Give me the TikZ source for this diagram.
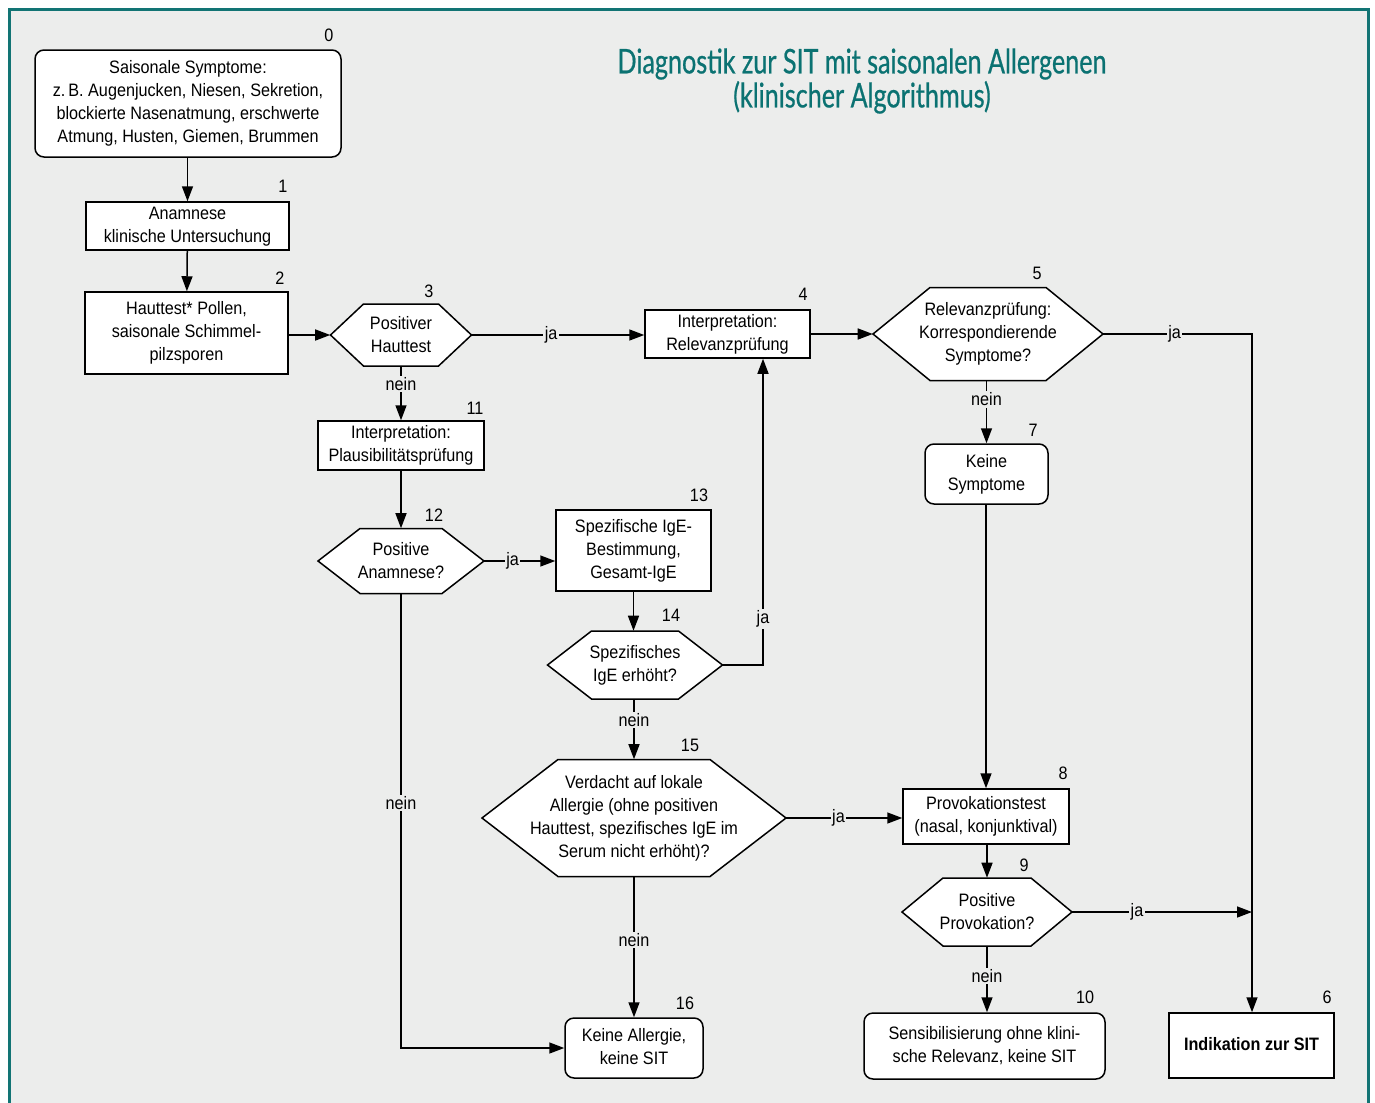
\documentclass[tikz,border=0pt]{standalone}
\usepackage{fontspec}
\setmainfont{Liberation Sans}[FakeStretch=0.9]
\newfontfamily\titlefont{Lato}[FakeStretch=0.74,FakeBold=0.6]
\usetikzlibrary{arrows.meta}
\definecolor{bgc}{HTML}{ECEDEC}
\definecolor{frameteal}{HTML}{127474}
\definecolor{titleteal}{HTML}{0B7272}
\def\pxu{0.75pt}
\newcommand\bodyfont{\fontsize{13.5}{17.25}\selectfont}
\tikzset{
  box/.style={draw, fill=white, line width=1.5*\pxu, inner sep=0pt, font=\bodyfont},
  rbox/.style={box, rounded corners=9*\pxu},
  hexline/.style={draw, fill=white, line width=1.5*\pxu},
  hextext/.style={align=center, inner sep=0pt, font=\bodyfont},
  num/.style={inner sep=0pt, font=\fontsize{13.5}{16}\selectfont},
  conn/.style={line width=1.5*\pxu, -{Triangle[length=15*\pxu, width=11*\pxu]}},
  plain/.style={line width=1.5*\pxu},
  lab/.style={fill=bgc, inner sep=1.5*\pxu, font=\bodyfont},
}
% \bx{style}{name}{x1}{y1}{x2}{y2}{text}
\newcommand\bx[7]{%
  \node[#1, minimum width={(#5-#3)*\pxu}, minimum height={(#6-#4)*\pxu}] (#2) at ({(#3+#5)/2},{(#4+#6)/2}) {\raisebox{-1.6pt}{\begin{tabular}{@{}c@{}}#7\end{tabular}}};}
% \hexnode{name}{cx}{cy}{w}{h}{d}{text}
\newcommand\hexnode[7]{%
  \path[hexline] ({#2-#4/2},#3) -- ({#2-#4/2+#6},{#3-#5/2}) -- ({#2+#4/2-#6},{#3-#5/2}) -- ({#2+#4/2},#3) -- ({#2+#4/2-#6},{#3+#5/2}) -- ({#2-#4/2+#6},{#3+#5/2}) -- cycle;
  \node[hextext, minimum width={#4*\pxu}, minimum height={#5*\pxu}] (#1) at (#2,#3) {#7};}
\begin{document}
\begin{tikzpicture}[x=0.75pt,y=-0.75pt]
\useasboundingbox (0,0) rectangle (1375,1103);
\clip (0,0) rectangle (1375,1103);
\fill[white] (0,0) rectangle (1375,1103);
\fill[bgc] (9,9) rectangle (1368,1120);
\draw[frameteal, line width=3*\pxu] (9,9) rectangle (1368,1120);

% title
\node[text=titleteal, font=\titlefont\fontsize{25.5}{25.5}\selectfont, align=center, inner sep=0] (title) at (862,81) {Diagnostik zur SIT mit saisonalen Allergenen\\(klinischer Algorithmus)};

% boxes
\bx{rbox}{n0}{35}{50}{341}{157}{Saisonale Symptome:\\z.\,B. Augenjucken, Niesen, Sekretion,\\blockierte Nasenatmung, erschwerte\\Atmung, Husten, Giemen, Brummen}
\bx{box}{n1}{86}{202}{289}{250}{Anamnese\\klinische Untersuchung}
\bx{box}{n2}{85}{292}{288}{374}{Hauttest* Pollen,\\saisonale Schimmel-\\pilzsporen}
\hexnode{n3}{401}{335}{141}{62}{33}{Positiver\\Hauttest}
\bx{box}{n4}{645}{310}{810}{358}{Interpretation:\\Relevanzprüfung}
\hexnode{n5}{988}{334}{230}{93}{57}{Relevanzprüfung:\\Korrespondierende\\Symptome?}
\bx{rbox}{n7}{925}{444}{1048}{504}{Keine\\Symptome}
\bx{box}{n11}{318}{421}{484}{470}{Interpretation:\\Plausibilitätsprüfung}
\hexnode{n12}{401}{561}{166}{65}{42}{Positive\\Anamnese?}
\bx{box}{n13}{556}{510}{711}{591}{Spezifische IgE-\\Bestimmung,\\Gesamt-IgE}
\hexnode{n14}{635}{665}{175}{68}{44}{Spezifisches\\IgE erhöht?}
\hexnode{n15}{634}{818}{304}{117}{76}{Verdacht auf lokale\\Allergie (ohne positiven\\Hauttest, spezifisches IgE im\\Serum nicht erhöht)?}
\bx{box}{n8}{903}{789}{1069}{844}{Provokationstest\\(nasal, konjunktival)}
\hexnode{n9}{987}{912}{170}{68}{41}{Positive\\Provokation?}
\bx{rbox}{n16}{565}{1018}{703}{1078}{Keine Allergie,\\keine SIT}
\bx{rbox}{n10}{864}{1013}{1105}{1079}{Sensibilisierung ohne klini-\\sche Relevanz, keine SIT}
\bx{box}{n6}{1169}{1013}{1334}{1078}{\bfseries Indikation zur SIT}

% numbers
\node[num] (l0) at (329,35) {0};
\node[num] (l1) at (283,186) {1};
\node[num] (l2) at (280,278) {2};
\node[num] (l3) at (429,291) {3};
\node[num] (l4) at (803,294) {4};
\node[num] (l5) at (1037,273) {5};
\node[num] (l6) at (1327,997) {6};
\node[num] (l7) at (1033,430) {7};
\node[num] (l8) at (1063,773) {8};
\node[num] (l9) at (1024,865) {9};
\node[num] (l10) at (1085,997) {10};
\node[num] (l11) at (475,408) {11};
\node[num] (l12) at (434,515) {12};
\node[num] (l13) at (699,495) {13};
\node[num] (l14) at (671,615) {14};
\node[num] (l15) at (690,745) {15};
\node[num] (l16) at (685,1003) {16};

% connectors
\draw[conn] (n0.south -| n1) -- (n1.north);
\draw[conn] (n1) -- (n2);
\draw[conn] (n2.east |- n3) -- (n3.west);
\draw[conn] (n3.east) -- node[lab, pos=0.46] {ja} (n4.west |- n3);
\draw[conn] (n4.east |- n5) -- (n5.west);
\coordinate (c56) at (1252,334);
\draw[conn] (n5.east) -- node[lab, pos=0.48] {ja} (c56) -- (c56 |- n6.north);
\draw[conn] (n5.south -| n7) -- node[lab, pos=0.3] {nein} (n7.north);
\draw[conn] (n3.south) -- node[lab, pos=0.33] {nein} (n11.north);
\draw[conn] (n11) -- (n12);
\draw[conn] (n12.east) -- node[lab, pos=0.4] {ja} (n13.west |- n12);
\draw[conn] (n12.south) -- node[lab, pos=0.46] {nein} (n12.south |- n16) -- (n16.west);
\draw[conn] (n13.south) -- (n13.south |- n14.north);
\coordinate (c144) at (763,665);
\draw[conn] (n14.east) -- (c144) -- node[lab, pos=0.15] {ja} (c144 |- n4.south);
\draw[conn] (n14.south -| n15) -- node[lab, pos=0.35] {nein} (n15.north);
\draw[conn] (n15.east) -- node[lab, pos=0.45] {ja} (n8.west |- n15);
\draw[conn] (n15.south) -- node[lab, pos=0.45] {nein} (n15.south |- n16.north);
\draw[conn] (n7.south -| n8) -- (n8.north);
\draw[conn] (n8.south -| n9) -- (n9.north);
\draw[conn] (n9.east) -- node[lab, pos=0.36] {ja} (c56 |- n9);
\draw[conn] (n9.south) -- node[lab, pos=0.45] {nein} (n9.south |- n10.north);
\end{tikzpicture}
\end{document}
